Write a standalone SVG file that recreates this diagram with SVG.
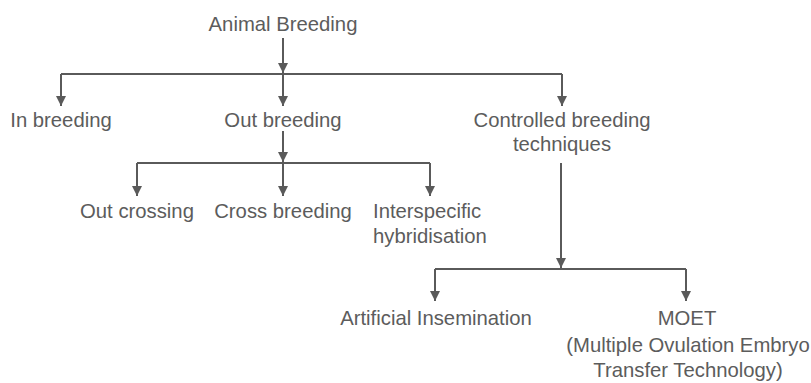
<svg xmlns="http://www.w3.org/2000/svg" width="811" height="383" viewBox="0 0 811 383">
<style>
.lbl{font-family:"Liberation Sans",Arial,sans-serif;font-size:20.3px;fill:#5c5c5c;text-anchor:middle}
.con{fill:none;stroke:#5a5a5a;stroke-width:2}
.arr{fill:none;stroke:#5a5a5a;stroke-width:2;marker-end:url(#ah)}
</style>
<defs>
<marker id="ah" markerUnits="userSpaceOnUse" markerWidth="10" markerHeight="10" refX="10" refY="5" orient="auto" viewBox="0 0 10 10">
<path d="M0,0 L10,5 L0,10 Z" fill="#5a5a5a"/>
</marker>
</defs>
<rect width="811" height="383" fill="#fff"/>
<g id="connectors">
<path class="arr" d="M283 38 V73"/>
<path class="con" d="M61 74 H562"/>
<path class="arr" d="M61 74 V106"/>
<path class="arr" d="M283 74 V106"/>
<path class="arr" d="M562 74 V106"/>
<path class="arr" d="M283 131 V162"/>
<path class="con" d="M137 163 H430"/>
<path class="arr" d="M137 163 V196"/>
<path class="arr" d="M283 163 V196"/>
<path class="arr" d="M430 163 V196"/>
<path class="arr" d="M561 163 V268"/>
<path class="con" d="M435 269 H686"/>
<path class="arr" d="M435 269 V301"/>
<path class="arr" d="M686 269 V301"/>
</g>
<g id="animal-breeding"><text class="lbl" x="283" y="31">Animal Breeding</text></g>
<g id="in-breeding"><text class="lbl" x="61" y="127">In breeding</text></g>
<g id="out-breeding"><text class="lbl" x="283" y="127">Out breeding</text></g>
<g id="controlled-breeding"><text class="lbl" x="562" y="127">Controlled breeding</text><text class="lbl" x="562" y="151">techniques</text></g>
<g id="out-crossing"><text class="lbl" x="137" y="218">Out crossing</text></g>
<g id="cross-breeding"><text class="lbl" x="283" y="218">Cross breeding</text></g>
<g id="interspecific"><text class="lbl" x="373" y="218" style="text-anchor:start">Interspecific</text><text class="lbl" x="373" y="243" style="text-anchor:start">hybridisation</text></g>
<g id="artificial-insemination"><text class="lbl" x="436" y="325">Artificial Insemination</text></g>
<g id="moet"><text class="lbl" x="687" y="325">MOET</text><text class="lbl" x="688" y="352">(Multiple Ovulation Embryo</text><text class="lbl" x="688" y="377">Transfer Technology)</text></g>
</svg>
